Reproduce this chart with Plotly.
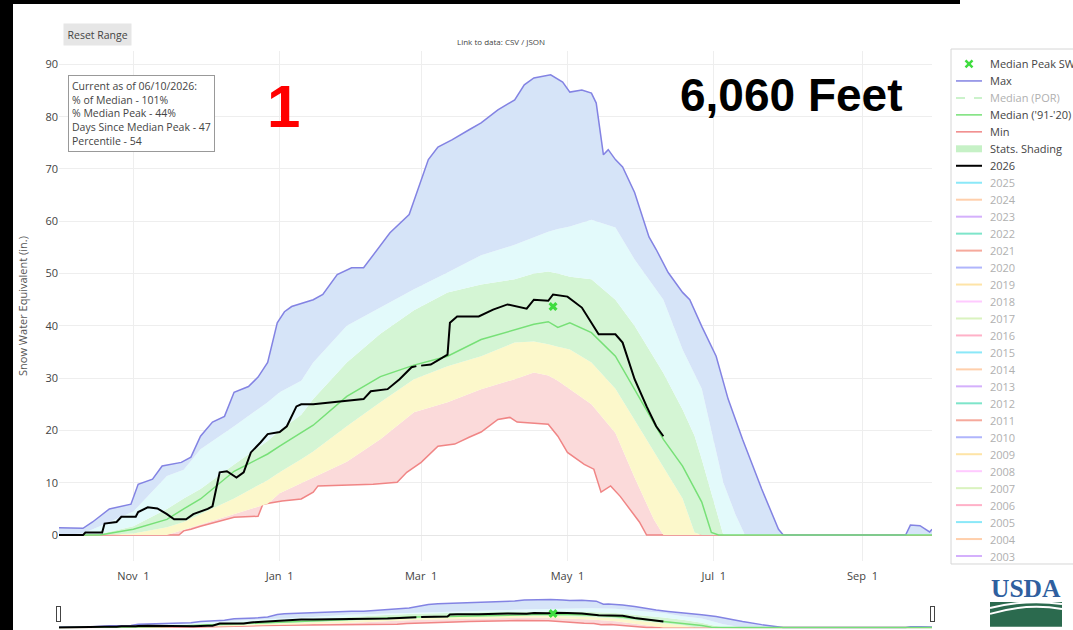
import pandas as pd
import plotly.graph_objects as go

# ---------------- data (days since start of water year, SWE inches) -------------
WY_START = "2025-10-01"
WY_END = "2026-09-30"

max_days = [0, 10, 14, 21, 30, 33, 39, 43, 51, 55, 59, 64, 69, 73, 79, 83, 87, 91, 94, 97,
            106, 110, 116, 122, 127, 131, 138, 146, 150, 154, 158, 164, 171, 176, 183, 190,
            194, 198, 205, 210, 213, 218, 222, 224, 227, 229, 232, 235, 240, 246, 249, 254,
            260, 263, 268, 274, 279, 285, 293, 300, 302, 353, 355, 359, 363, 364]
max_vals = [1.4, 1.3, 2.5, 5.0, 5.9, 9.7, 10.7, 13.2, 13.9, 14.9, 18.9, 21.6, 22.7, 27.3, 28.4,
            30.2, 33.0, 40.6, 42.7, 43.7, 45.0, 46.0, 49.8, 51.1, 51.1, 53.6, 57.8, 61.3, 66.4,
            71.8, 74.2, 75.6, 77.5, 78.8, 81.3, 83.2, 86.1, 87.4, 88.0, 86.6, 84.7, 85.1, 84.5,
            82.6, 72.7, 73.7, 71.8, 70.4, 65.5, 57.0, 54.6, 50.2, 46.4, 45.0, 39.9, 34.2, 26.0,
            18.3, 8.8, 1.1, 0, 0, 1.9, 1.8, 0.6, 1.1]

pct_days = [0, 10, 17, 31, 45, 52, 59, 73, 87, 92, 101, 106, 120, 134, 148, 162, 176, 190,
            198, 204, 208, 213, 222, 232, 240, 248, 252, 260, 265, 268, 272, 275, 277, 282,
            286, 364]
p10_vals = [0, 0, 0, 0, 0, 1.0, 2, 4, 6, 8, 10, 11, 14, 18.3, 23.5, 25.4, 27.9, 29.8, 31.1,
            30.5, 29.5, 27.9, 25, 19.5, 11, 3, 0, 0, 0, 0, 0, 0, 0, 0, 0, 0]
p30_vals = [0, 0, 0, 0.3, 1.5, 2.5, 4, 7, 10.5, 12, 14.5, 16, 20.8, 25.4, 29.8, 32.3, 34.2,
            36.8, 37, 36.5, 36, 35.5, 33, 28, 22, 16, 13.2, 7, 0.5, 0, 0, 0, 0, 0, 0, 0]
median_vals = [0, 0, 0, 1.1, 3, 5, 6.9, 12.2, 15.5, 17, 19.5, 21, 26.5, 30.3, 32.5, 34.2, 37.4,
               39.3, 40.3, 40.8, 39.7, 40.6, 38.7, 34.2, 27.9, 21.5, 18.3, 13.2, 9, 6.3, 0.5,
               0, 0, 0, 0, 0]
p70_vals = [0, 0, 0.2, 1.7, 5, 7, 8.8, 13.5, 18, 20, 23, 26, 33, 38.5, 43, 46.4, 47.9, 48.9,
            50, 50.4, 50, 49.4, 48.9, 45, 40, 34, 31, 24, 19, 14.5, 8, 3, 0, 0, 0, 0]
p90_vals = [0, 0.3, 1.7, 4.5, 11.3, 12.5, 16.4, 20.8, 25.4, 27.3, 29.5, 33, 40, 43.5, 47, 50.2,
            53.5, 55.5, 57, 58, 58.5, 59, 60.3, 58.8, 52.7, 47.5, 45, 35.5, 31, 28, 20, 14, 10,
            4, 0, 0]

min_days = [0, 50, 52, 55, 59, 73, 83, 85, 93, 101, 106, 108, 131, 141, 145, 151, 158, 165,
            171, 176, 183, 188, 191, 204, 208, 212, 219, 223, 226, 230, 234, 238, 242, 245, 364]
min_vals = [0, 0, 0.8, 1.1, 1.7, 3.4, 3.6, 5.9, 6.5, 6.9, 8.2, 9.4, 9.7, 10.1, 12, 13.9, 17,
            17.4, 18.7, 19.7, 22.1, 22.5, 21.6, 21.2, 18.9, 15.8, 13.5, 12.6, 8.2, 9.4, 7.4, 5,
            2.5, 0, 0]

wy2026_days = [0, 10, 11, 18, 19, 24, 26, 32, 33, 37, 41, 45, 48, 53, 56, 62, 64, 67, 70, 74,
               77, 80, 84, 87, 92, 95, 99, 101, 106, 127, 130, 137, 142, 147, 149, 150, 151,
               155, 162, 163, 166, 175, 181, 187, 195, 198, 204, 206, 212, 218, 225, 232, 235,
               240, 245, 249, 252]
wy2026_vals = [0, 0, 0.5, 0.5, 2.2, 2.5, 3.5, 3.5, 4.4, 5.3, 5.1, 4, 3, 3, 4, 5, 5.5, 12, 12.2,
               11, 12, 15.8, 17.7, 19.3, 19.7, 20.8, 24.6, 25, 25, 26, 27.5, 27.9, 29.8, 32.1,
               32.3, None, 32.4, 32.6, 34.5, 40.6, 41.8, 41.8, 43.1, 44.1, 43.3, 45, 44.8, 46,
               45.6, 43.5, 38.4, 38.4, 36.8, 29.8, 24.6, 20.8, 18.9]

median_peak_day = [206]
median_peak_val = [43.7]

info_lines = ["Current as of 06/10/2026:", "% of Median - 101%", "% Median Peak - 44%",
              "Days Since Median Peak - 47", "Percentile - 54"]

legend_main = ["Median Peak SWE", "Max", "Median (POR)", "Median ('91-'20)", "Min",
               "Stats. Shading", "2026"]
legend_years = [str(y) for y in range(2025, 2002, -1)]
year_colors = ["#19d3f3", "#FFA15A", "#ab63fa", "#00cc96", "#EF553B", "#636efa", "#FECB52",
               "#FF97FF", "#B6E880", "#FF6692"]

# ---------------- styles --------------------------------------------------------
MAX_C = "#8383e3"
MED_C = "#77e077"
MIN_C = "#f08585"
PEAK_C = "#3fdc3f"
F_RED = "#fbdada"
F_YEL = "#fcf8cb"
F_GRN = "#d4f5d4"
F_CYN = "#e3fafb"
F_BLU = "#d6e4f8"


def dates(days):
    start = pd.Timestamp(WY_START)
    return [start + pd.Timedelta(days=d) for d in days]


fig = go.Figure()
common = dict(mode="lines", showlegend=False, hoverinfo="x+y")
fig.add_trace(go.Scatter(x=dates(min_days), y=min_vals, line=dict(color=MIN_C, width=1.5), name="Min", **common))
fig.add_trace(go.Scatter(x=dates(pct_days), y=p10_vals, line=dict(width=0), fill="tonexty", fillcolor=F_RED, name="10%", **common))
fig.add_trace(go.Scatter(x=dates(pct_days), y=p30_vals, line=dict(width=0), fill="tonexty", fillcolor=F_YEL, name="30%", **common))
fig.add_trace(go.Scatter(x=dates(pct_days), y=p70_vals, line=dict(width=0), fill="tonexty", fillcolor=F_GRN, name="70%", **common))
fig.add_trace(go.Scatter(x=dates(pct_days), y=p90_vals, line=dict(width=0), fill="tonexty", fillcolor=F_CYN, name="90%", **common))
fig.add_trace(go.Scatter(x=dates(max_days), y=max_vals, line=dict(color=MAX_C, width=1.5), fill="tonexty", fillcolor=F_BLU, name="Max", **common))
fig.add_trace(go.Scatter(x=dates(pct_days), y=median_vals, line=dict(color=MED_C, width=1.5), name="Median ('91-'20)", **common))
fig.add_trace(go.Scatter(x=dates(wy2026_days), y=wy2026_vals, line=dict(color="#000000", width=2), name="2026", **common))
fig.add_trace(go.Scatter(x=dates(median_peak_day), y=median_peak_val, mode="markers", showlegend=False,
                         marker=dict(symbol="x", size=8, color=PEAK_C), name="Median Peak SWE"))

# ---------------- layout geometry -------------------------------------------------
L, R, T, B = 59, 932, 51, 562
W, H = R - L, B - T


def px(x):
    return (x - L) / W


def py(y):
    return (B - y) / H


shapes = []
annotations = []


def text(x, y, s, **kw):
    d = dict(xref="paper", yref="paper", x=px(x), y=py(y), text=s, showarrow=False,
             xanchor="center", yanchor="middle")
    d.update(kw)
    annotations.append(d)


def hline(x0, x1, y, **line):
    return dict(type="line", xref="paper", yref="paper", x0=px(x0), x1=px(x1), y0=py(y), y1=py(y),
                line=line)


# black frame at the left / top edge of the screenshot
shapes.append(dict(type="rect", xref="paper", yref="paper", x0=px(0), x1=px(13), y0=py(630), y1=py(0),
                   line=dict(width=0), fillcolor="black", layer="below"))
shapes.append(dict(type="rect", xref="paper", yref="paper", x0=px(0), x1=px(960), y0=py(4), y1=py(0),
                   line=dict(width=0), fillcolor="black", layer="above"))
annotations.append(dict(xref="paper", yref="paper", x=px(0), y=py(315), xanchor="left", yanchor="middle",
                        text=" ", showarrow=False, width=13, height=640, bgcolor="black", borderpad=0,
                        borderwidth=0))

# legend box
shapes.append(dict(type="rect", xref="paper", yref="paper", x0=px(951), x1=px(1090), y0=py(49), y1=py(565),
                   line=dict(color="#d6d6d6", width=1), fillcolor="white", layer="above"))
items = legend_main + legend_years
for i, name in enumerate(items):
    yy = 64 + 17 * i
    active = True
    if name == "Median Peak SWE":
        for a, b in [((965.5, yy - 3.5), (972.5, yy + 3.5)), ((965.5, yy + 3.5), (972.5, yy - 3.5))]:
            shapes.append(dict(type="line", xref="paper", yref="paper", x0=px(a[0]), y0=py(a[1]),
                               x1=px(b[0]), y1=py(b[1]), line=dict(color=PEAK_C, width=2.5)))
    elif name == "Max":
        shapes.append(hline(956, 982, yy, color=MAX_C, width=1.5))
    elif name == "Median (POR)":
        active = False
        s = hline(956, 982, yy, color=MED_C, width=1.5, dash="dash")
        s["opacity"] = 0.5
        shapes.append(s)
    elif name.startswith("Median ("):
        shapes.append(hline(956, 982, yy, color=MED_C, width=1.5))
    elif name == "Min":
        shapes.append(hline(956, 982, yy, color=MIN_C, width=1.5))
    elif name == "Stats. Shading":
        shapes.append(hline(956, 982, yy, color="#c6f1c6", width=7))
    elif name == "2026":
        shapes.append(hline(956, 982, yy, color="#000000", width=2))
    else:
        active = False
        k = legend_years.index(name)
        s = hline(956, 982, yy, color=year_colors[k % len(year_colors)], width=2)
        s["opacity"] = 0.5
        shapes.append(s)
    text(988, yy, name, xanchor="left", font=dict(size=11, color="#444" if active else "#b0b0b0"))

# info box, reset button, link text, big labels
text(68, 75, "<br>".join(info_lines), xanchor="left", yanchor="top", align="left",
     bordercolor="#999", borderwidth=1, borderpad=3, bgcolor="white", font=dict(size=10.5, color="#444"))
text(97.5, 34.5, "Reset Range", bgcolor="#e6e6e6", borderpad=3.5, font=dict(size=10.5, color="#444"))
text(501, 41, "Link to data: CSV / JSON", font=dict(size=8, color="#444"))
text(283, 107, "<b>1</b>", font=dict(size=60, color="#ff0000", family="Arial"))
text(791, 95, "<b>6,060 Feet</b>", font=dict(size=46, color="#000000", family="Arial"))
text(1026, 590, "<b>USDA</b>", font=dict(size=25.5, color="#2f5f9f", family="Liberation Serif, serif"))

# USDA logo green part
shapes.append(dict(type="rect", xref="paper", yref="paper", x0=px(990), x1=px(1062), y0=py(603), y1=py(628),
                   line=dict(width=0), fillcolor="#2b6a4e"))
for y_a, y_c, y_b in [(609, 600, 605), (615, 604, 610)]:
    shapes.append(dict(type="path", xref="paper", yref="paper",
                       path=f"M {px(990)},{py(y_a)} Q {px(1026)},{py(y_c)} {px(1062)},{py(y_b)}",
                       line=dict(color="white", width=2)))

fig.update_layout(
    width=1073, height=630,
    margin=dict(l=L, r=1073 - R, t=T, b=1),
    paper_bgcolor="white", plot_bgcolor="white",
    font=dict(family="Open Sans", color="#444", size=11),
    showlegend=False,
    shapes=shapes, annotations=annotations,
    xaxis=dict(type="date", range=[WY_START, WY_END], tickformat="%b %e", dtick="M2", tick0="2025-11-01",
               showgrid=True, gridcolor="#eeeeee", zeroline=False, showline=False,
               ticks="outside", ticklen=5, tickcolor="rgba(0,0,0,0)", tickfont=dict(size=11, color="#444"),
               rangeslider=dict(visible=True, thickness=0.053, bgcolor="white", borderwidth=0,
                                range=[WY_START, WY_END])),
    yaxis=dict(range=[-4.96, 92.56], dtick=10, showgrid=True, gridcolor="#eeeeee", zeroline=True,
               zerolinecolor="#e6e6e6", zerolinewidth=1, tickfont=dict(size=11, color="#444"),
               title=dict(text="Snow Water Equivalent (in.)", font=dict(size=11, color="#555"))),
)

fig.write_html("out.html", config={"displayModeBar": False},
               post_script="document.body.style.margin='0px';")
